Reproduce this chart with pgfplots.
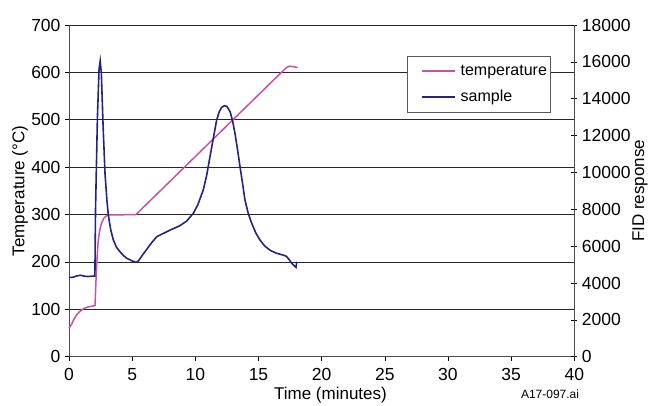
\documentclass[border=0pt]{standalone}
\usepackage{fontspec}
\setmainfont{Liberation Sans}
\usepackage{pgfplots}
\pgfplotsset{compat=1.18}
\definecolor{tempc}{RGB}{200,80,168}
\definecolor{samplec}{RGB}{36,36,128}
\begin{document}
\begin{tikzpicture}
\path[use as bounding box] (-69pt,-48.3pt) rectangle (582pt,356.7pt);
\begin{axis}[
  at={(0pt,0pt)}, anchor=south west,
  scale only axis, width=505.3pt, height=331.7pt,
  xmin=0, xmax=40, ymin=0, ymax=700,
  xtick={0,5,...,40}, ytick={0,100,...,700},
  axis y line*=left, axis x line*=bottom,
  axis line style={black!70, line width=0.8pt},
  tick style={black, line width=0.6pt},
  tick align=outside, major tick length=4pt,
  ymajorgrids, grid style={black!85, line width=0.6pt},
  /pgf/number format/assume math mode=true,
  /pgf/number format/set thousands separator={},
  tick label style={font=\fontsize{17.5}{20}\selectfont},
  xticklabel style={yshift=-4pt},
  yticklabel style={xshift=-1pt},
  xlabel={Time (minutes)},
  ylabel={Temperature (°C)},
  every axis x label/.style={at={(axis description cs:0.5175,-0.117)}, anchor=center, font=\fontsize{17}{20}\selectfont},
  every axis y label/.style={at={(axis description cs:-0.097,0.5)}, rotate=90, anchor=center, font=\fontsize{17}{20}\selectfont},
  legend style={at={(axis description cs:0.669,0.9065)}, anchor=north west,
    draw=black!65, fill=white,
    font=\fontsize{16}{19}\selectfont,
    inner xsep=1pt, inner ysep=7pt, row sep=9pt},
  legend cell align=left,
  clip=false,
]
\addplot[color=tempc, line width=1.5pt, forget plot] coordinates {
(0,60) (0.2,68) (0.35,77) (0.6,88) (0.87,96) (1.2,102) (1.5,105) (1.92,107) (2.06,108)
(2.12,150) (2.2,200) (2.3,240) (2.4,262) (2.55,280) (2.75,292) (2.95,297) (3.1,299)
(5.3,300) (17.2,610) (17.45,613) (17.8,612) (18.1,610)
};
\addlegendimage{legend image code/.code={\path (0pt,0pt) (50pt,0pt); \draw[tempc, line width=1.6pt] (14pt,0pt) -- (47pt,0pt);}}
\addlegendentry{temperature}
\addlegendimage{legend image code/.code={\path (0pt,0pt) (50pt,0pt); \draw[samplec, line width=2.2pt] (14pt,0pt) -- (47pt,0pt);}}
\addlegendentry{sample}
\node[font=\fontsize{12}{14}\selectfont, anchor=center] at (axis description cs:0.952,-0.112) {A17-097.ai};
\end{axis}
\begin{axis}[
  at={(0pt,0pt)}, anchor=south west,
  scale only axis, width=505.3pt, height=331.7pt,
  xmin=0, xmax=40, ymin=0, ymax=18000,
  ytick={0,2000,...,18000},
  axis y line*=right, axis x line=none,
  axis line style={black!70, line width=0.8pt},
  tick style={black, line width=0.6pt},
  tick align=center, major tick length=6pt,
  scaled y ticks=false,
  /pgf/number format/assume math mode=true,
  /pgf/number format/set thousands separator={},
  tick label style={font=\fontsize{17.5}{20}\selectfont},
  yticklabel style={xshift=1pt},
  ylabel={FID response},
  every axis y label/.style={at={(axis description cs:1.130,0.5)}, rotate=90, anchor=center, font=\fontsize{17}{20}\selectfont},
  clip=false,
]
\addplot[color=samplec, line width=1.6pt] coordinates {
(0,4300) (0.3,4310) (0.6,4380) (0.9,4420) (1.2,4370) (1.5,4350) (1.8,4370) (2.05,4380)
(2.1,8000) (2.25,13000) (2.38,15600) (2.47,16050) (2.56,15400) (2.7,12500) (2.85,9950)
(3.0,8500) (3.11,7700) (3.3,6900) (3.51,6330) (3.75,5950) (4.04,5690) (4.3,5500) (4.57,5340)
(5.0,5200) (5.3,5120) (5.5,5200) (5.8,5500) (6.15,5820) (6.5,6150) (6.94,6510) (7.5,6700)
(8.0,6870) (8.75,7100) (9.3,7350) (9.84,7780) (10.2,8250) (10.63,9050) (10.9,9850)
(11.16,10850) (11.45,11950) (11.69,12850) (11.9,13300) (12.09,13530) (12.3,13620)
(12.5,13580) (12.75,13300) (12.95,12800) (13.14,12120) (13.35,11200) (13.54,10310)
(13.75,9350) (13.93,8500) (14.2,7750) (14.47,7230) (14.8,6700) (15.12,6330) (15.5,6000)
(15.91,5780) (16.4,5620) (16.97,5510) (17.2,5450) (17.36,5330) (17.6,5100) (17.8,4950)
(17.97,4850) (18.03,5150)
};
\end{axis}
\end{tikzpicture}
\end{document}
